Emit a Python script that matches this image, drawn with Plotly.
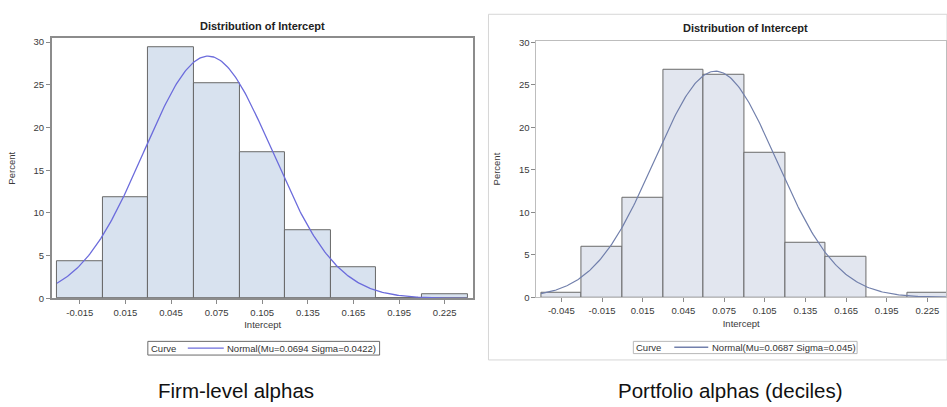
import numpy as np
import plotly.graph_objects as go

# ---------------- data ----------------
bin_width = 0.03

firm_bins = [-0.015, 0.015, 0.045, 0.075, 0.105, 0.135, 0.165, 0.195, 0.225]
firm_pct = [4.3, 11.8, 29.4, 25.2, 17.1, 8.0, 3.7, 0.0, 0.5]
firm_tick_labels = ["-0.015", "0.015", "0.045", "0.075", "0.105", "0.135", "0.165", "0.195", "0.225"]
firm_mu, firm_sigma = 0.0694, 0.0422

port_bins = [-0.045, -0.015, 0.015, 0.045, 0.075, 0.105, 0.135, 0.165, 0.195, 0.225]
port_pct = [0.5, 5.9, 11.7, 26.8, 26.2, 17.0, 6.4, 4.8, 0.0, 0.5]
port_tick_labels = ["-0.045", "-0.015", "0.015", "0.045", "0.075", "0.105", "0.135", "0.165", "0.195", "0.225"]
port_mu, port_sigma = 0.0687, 0.045

y_ticks = [0, 5, 10, 15, 20, 25, 30]
y_tick_labels = ["0", "5", "10", "15", "20", "25", "30"]

panel_title = "Distribution of Intercept"
x_title = "Intercept"
y_title = "Percent"
legend_title = "Curve"
captions = ["Firm-level alphas", "Portfolio alphas (deciles)"]

FONT = "Liberation Sans, Arial, sans-serif"
W, H = 947, 407
FIRM_CURVE = "#6c6cdc"
PORT_CURVE = "#7280ac"


def normal_curve(mu, sigma, lo, hi):
    xs = np.linspace(lo, hi, 300)
    ys = 100 * bin_width * np.exp(-0.5 * ((xs - mu) / sigma) ** 2) / (sigma * np.sqrt(2 * np.pi))
    return xs, ys


def px_x(p):
    return p / W


def px_y(p):
    return 1 - p / H


fig = go.Figure()

# left panel
fig.add_trace(go.Bar(x=firm_bins, y=firm_pct, width=bin_width,
                     marker=dict(color="#d8e2ef", line=dict(color="#686868", width=1)),
                     xaxis="x", yaxis="y", showlegend=False, hoverinfo="x+y"))
fx, fy = normal_curve(firm_mu, firm_sigma, firm_bins[0] - bin_width / 2, firm_bins[-1] + bin_width / 2)
firm_name = "Normal(Mu=%s Sigma=%s)" % (firm_mu, firm_sigma)
fig.add_trace(go.Scatter(x=fx, y=fy, mode="lines", line=dict(color=FIRM_CURVE, width=1.3),
                         name=firm_name, xaxis="x", yaxis="y", showlegend=False))

# right panel
fig.add_trace(go.Bar(x=port_bins, y=port_pct, width=bin_width,
                     marker=dict(color="#e2e6ef", line=dict(color="#6a6a6a", width=1)),
                     xaxis="x2", yaxis="y2", showlegend=False, hoverinfo="x+y"))
rx, ry = normal_curve(port_mu, port_sigma, port_bins[0] - bin_width / 2, port_bins[-1] + bin_width / 2)
port_name = "Normal(Mu=%s Sigma=%s)" % (port_mu, port_sigma)
fig.add_trace(go.Scatter(x=rx, y=ry, mode="lines", line=dict(color=PORT_CURVE, width=1.2),
                         name=port_name, xaxis="x2", yaxis="y2", showlegend=False))

tickfont = dict(family=FONT, size=9.5, color="#3a3a3a")
titlefont = dict(family=FONT, size=9.5, color="#3a3a3a")

common_x = dict(showgrid=False, zeroline=False, ticks="outside", ticklen=4, tickcolor="#8a8a8a",
                tickfont=tickfont, tickmode="array", mirror=True, title_font=titlefont,
                title_standoff=5)
common_y = dict(showgrid=False, zeroline=False, ticks="outside", ticklen=4, tickcolor="#8a8a8a",
                tickfont=tickfont, tickmode="array", tickvals=y_ticks, ticktext=y_tick_labels,
                mirror=True, title_font=titlefont, title_standoff=16)


def legend_parts(box, line, title_x, text_x, yc, name, color, border):
    shapes = [
        dict(type="rect", xref="paper", yref="paper", x0=px_x(box[0]), x1=px_x(box[1]),
             y0=px_y(box[3]), y1=px_y(box[2]), line=dict(color=border, width=1),
             fillcolor="white"),
        dict(type="line", xref="paper", yref="paper", x0=px_x(line[0]), x1=px_x(line[1]),
             y0=px_y(yc), y1=px_y(yc), line=dict(color=color, width=1.3)),
    ]
    anns = [
        dict(text=legend_title, x=px_x(title_x), y=px_y(yc), xref="paper", yref="paper",
             showarrow=False, xanchor="left", yanchor="middle",
             font=dict(family=FONT, size=9.5, color="#333")),
        dict(text=name, x=px_x(text_x), y=px_y(yc), xref="paper", yref="paper",
             showarrow=False, xanchor="left", yanchor="middle",
             font=dict(family=FONT, size=9.5, color="#333")),
    ]
    return shapes, anns


s1, a1 = legend_parts((148, 380, 345, 359), (188, 224), 149, 225, 352, firm_name, FIRM_CURVE, "#6a6a6a")
s2, a2 = legend_parts((634, 858, 345, 357.5), (675, 709), 635, 711, 351, port_name, PORT_CURVE, "#b8b8b8")

fig.update_layout(
    width=W, height=H, margin=dict(l=0, r=0, t=0, b=0),
    paper_bgcolor="white", plot_bgcolor="white", bargap=0,
    font=dict(family=FONT), showlegend=False,
    xaxis=dict(common_x, domain=[px_x(52), px_x(474)], range=[-0.0333, 0.2439], anchor="y",
               tickvals=firm_bins, ticktext=firm_tick_labels, showline=True, linecolor="#8c8c8c",
               linewidth=2, title_text=x_title),
    yaxis=dict(common_y, domain=[px_y(301), px_y(35)], range=[0, 30.46], anchor="x",
               showline=True, linecolor="#8c8c8c", linewidth=2, title_text=y_title),
    xaxis2=dict(common_x, domain=[px_x(537), 1.0], range=[-0.0634, 0.2387], anchor="y2",
                tickvals=port_bins, ticktext=port_tick_labels, showline=True, linecolor="#bdbdbd",
                linewidth=1, title_text=x_title),
    yaxis2=dict(common_y, domain=[px_y(300), px_y(37.6)], range=[0, 30.17], anchor="x2",
                showline=True, linecolor="#bdbdbd", linewidth=1, title_text=y_title),
    shapes=[dict(type="rect", xref="paper", yref="paper", x0=px_x(489), x1=px_x(948),
                 y0=px_y(364), y1=px_y(10.5), line=dict(color="#d6d6d6", width=1), layer="below")]
    + s1 + s2,
    annotations=[
        dict(text="<b>%s</b>" % panel_title, x=px_x(263), y=px_y(22), xref="paper", yref="paper",
             showarrow=False, xanchor="center", yanchor="middle",
             font=dict(family=FONT, size=11, color="#222")),
        dict(text="<b>%s</b>" % panel_title, x=px_x(746), y=px_y(25), xref="paper", yref="paper",
             showarrow=False, xanchor="center", yanchor="middle",
             font=dict(family=FONT, size=11, color="#222")),
        dict(text=captions[0], x=px_x(236), y=px_y(395), xref="paper", yref="paper",
             showarrow=False, xanchor="center", yanchor="middle",
             font=dict(family=FONT, size=20.5, color="#111")),
        dict(text=captions[1], x=px_x(731), y=px_y(395), xref="paper", yref="paper",
             showarrow=False, xanchor="center", yanchor="middle",
             font=dict(family=FONT, size=20.5, color="#111")),
    ] + a1 + a2,
)

fig.write_html("out.html", config={"displayModeBar": False},
               post_script="document.body.style.margin='0';document.body.style.overflow='hidden';")
